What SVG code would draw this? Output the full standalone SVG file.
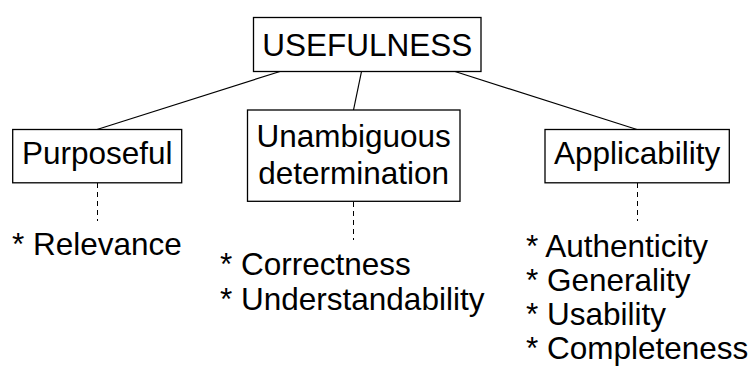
<svg xmlns="http://www.w3.org/2000/svg" width="750" height="373" viewBox="0 0 750 373">
  <style>
    .box { fill: #ffffff; stroke: #000000; stroke-width: 1.3; }
    .edge { stroke: #000000; stroke-width: 1.2; fill: none; }
    .dash { stroke: #000000; stroke-width: 1; fill: none; stroke-dasharray: 5 4; }
    text { font-family: "Liberation Sans", Arial, sans-serif; font-size: 31.5px; fill: #000000; }
    .c { text-anchor: middle; }
  </style>
  <rect width="750" height="373" fill="#ffffff"/>

  <!-- connectors -->
  <g id="connectors">
    <line class="edge" x1="280" y1="71.5" x2="97" y2="129.5"/>
    <line class="edge" x1="361.5" y1="71.5" x2="353.5" y2="110"/>
    <line class="edge" x1="455" y1="71.5" x2="637" y2="129.5"/>
    <line class="dash" x1="97.5" y1="183" x2="97.5" y2="221"/>
    <line class="dash" x1="353.5" y1="202" x2="353.5" y2="240"/>
    <line class="dash" x1="637.5" y1="183" x2="637.5" y2="221"/>
  </g>

  <g id="usefulness">
    <rect class="box" x="253.5" y="17.5" width="227.5" height="54"/>
    <text class="c" x="367.2" y="55.5">USEFULNESS</text>
  </g>

  <g id="purposeful">
    <rect class="box" x="12.7" y="129.5" width="169" height="53.3"/>
    <text class="c" x="97.2" y="164">Purposeful</text>
  </g>

  <g id="unambiguous">
    <rect class="box" x="247.5" y="110" width="212.5" height="91.3"/>
    <text class="c" x="353.7" y="147">Unambiguous</text>
    <text class="c" x="353.7" y="183.5">determination</text>
  </g>

  <g id="applicability">
    <rect class="box" x="545" y="129.5" width="184.3" height="53.3"/>
    <text class="c" x="637.2" y="164">Applicability</text>
  </g>

  <g id="purposeful-items">
    <text x="12" y="255">* Relevance</text>
  </g>

  <g id="unambiguous-items">
    <text x="220" y="275">* Correctness</text>
    <text x="220" y="309.5">* Understandability</text>
  </g>

  <g id="applicability-items">
    <text x="526" y="256.5">* Authenticity</text>
    <text x="526" y="290.5">* Generality</text>
    <text x="526" y="324.5">* Usability</text>
    <text x="526" y="358.5">* Completeness</text>
  </g>
</svg>
